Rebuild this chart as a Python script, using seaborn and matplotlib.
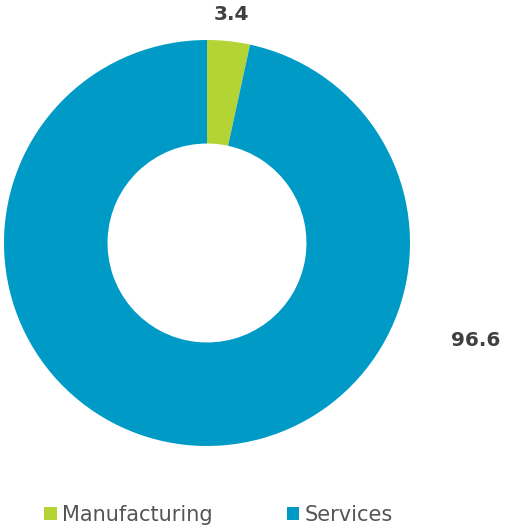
import matplotlib
matplotlib.use('Agg')
import matplotlib.pyplot as plt
import seaborn as sns

sectors = ['Manufacturing', 'Services']
shares = [3.4, 96.6]
colors = ['#b4d334', '#009ac7']

sns.set_theme(style='white')
plt.rcParams['font.family'] = ['DejaVu Sans']

fig = plt.figure(figsize=(5.05, 5.29), dpi=100)
# donut centre at (207, 243) px, outer radius 203 px
cx, cy, r = 207, 243, 203
ax = fig.add_axes([(cx - r) / 505, (529 - cy - r) / 529, 2 * r / 505, 2 * r / 529])
wedges, _ = ax.pie(shares, colors=colors, startangle=90, counterclock=False,
                   radius=1, wedgeprops=dict(width=0.51, edgecolor='none'))
ax.set_xlim(-1, 1)
ax.set_ylim(-1, 1)
ax.set_aspect('equal')
ax.set_axis_off()

fig.text(231 / 505, 1 - 15 / 529, f'{shares[0]}', ha='center', va='center',
         fontsize=14.5, fontweight='bold', color='#404040')
fig.text(476 / 505, 1 - 340 / 529, f'{shares[1]}', ha='center', va='center',
         fontsize=14.5, fontweight='bold', color='#404040')

leg = fig.legend(wedges, sectors, loc='center', bbox_to_anchor=(218.5 / 505, 1 - 515 / 529),
                 ncol=2, frameon=False, fontsize=15, handlelength=0.58, handleheight=0.58,
                 handletextpad=0.24, columnspacing=3.6, borderaxespad=0, borderpad=0)
for t in leg.get_texts():
    t.set_color('#555555')

fig.savefig('out.png', dpi=100)
